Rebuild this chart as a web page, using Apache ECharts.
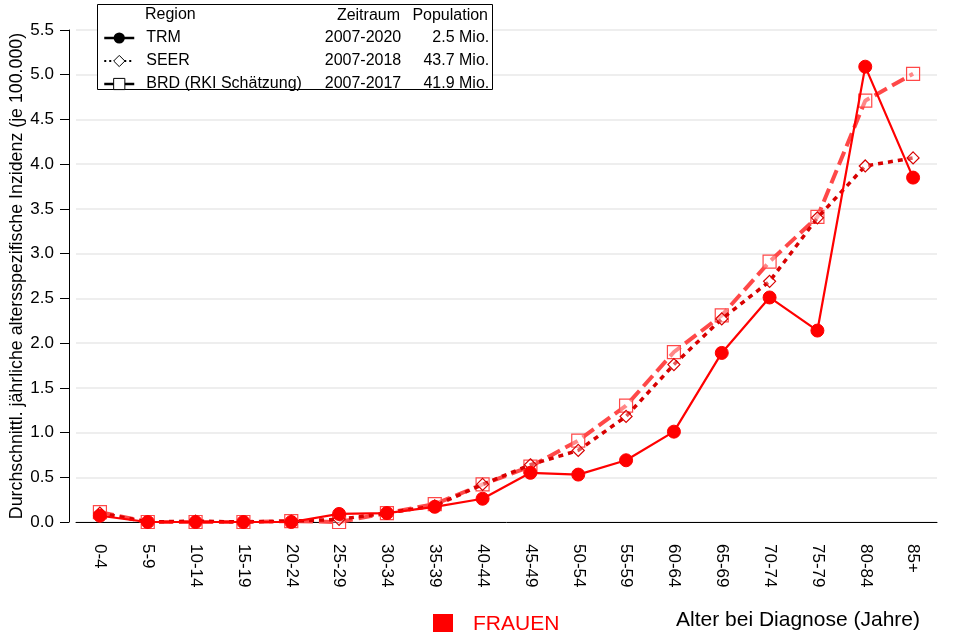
<!DOCTYPE html>
<html>
<head>
<meta charset="utf-8">
<script src="https://cdn.jsdelivr.net/npm/echarts@6/dist/echarts.min.js"></script>
<style>
html,body{margin:0;padding:0;background:#fff;}
#chart{width:960px;height:636px;}
</style>
</head>
<body>
<div id="chart"></div>
<script>
const categories = ['0-4','5-9','10-14','15-19','20-24','25-29','30-34','35-39','40-44','45-49','50-54','55-59','60-64','65-69','70-74','75-79','80-84','85+'];
const trm  = [0.07, 0.00, 0.00, 0.00, 0.00, 0.09, 0.10, 0.17, 0.26, 0.55, 0.53, 0.69, 1.01, 1.89, 2.51, 2.14, 5.09, 3.85];
const seer = [0.10, 0.00, 0.01, 0.00, 0.01, 0.03, 0.10, 0.18, 0.42, 0.64, 0.80, 1.18, 1.76, 2.27, 2.69, 3.40, 3.98, 4.07];
const brd  = [0.11, 0.00, 0.00, 0.00, 0.01, 0.00, 0.10, 0.20, 0.42, 0.62, 0.91, 1.30, 1.90, 2.31, 2.91, 3.41, 4.71, 5.01];
const legendRows = [
  {name:'TRM', period:'2007-2020', pop:'2.5 Mio.'},
  {name:'SEER', period:'2007-2018', pop:'43.7 Mio.'},
  {name:'BRD (RKI Schätzung)', period:'2007-2017', pop:'41.9 Mio.'}
];
const headerTexts = ['Region','Zeitraum','Population'];
const yTitle = 'Durchschnittl. jährliche altersspezifische Inzidenz (je 100.000)';
const xTitle = 'Alter bei Diagnose (Jahre)';
const groupLabel = 'FRAUEN';

const FONT = 'Liberation Sans, Arial, sans-serif';
const cTRM = '#ff0000', cSEER = '#d80000', cBRD = '#ff4848';

const chart = echarts.init(document.getElementById('chart'));
const rowMap = {};
legendRows.forEach(r => rowMap[r.name] = r);

chart.setOption({
  animation: false,
  backgroundColor: '#fff',
  textStyle: {fontFamily: FONT},
  grid: {left: 76, right: 23, top: 30, bottom: 114, outerBoundsMode: 'none', containLabel: false},
  xAxis: {
    type: 'category',
    data: categories,
    boundaryGap: true,
    offset: 6,
    axisLine: {lineStyle: {color: '#000', width: 1}},
    axisTick: {alignWithLabel: true, length: 9, lineStyle: {color: '#000'}},
    axisLabel: {rotate: -90, margin: 16, fontSize: 17, color: '#000', fontFamily: FONT},
    splitLine: {show: false}
  },
  yAxis: {
    type: 'value',
    min: 0, max: 5.5, interval: 0.5,
    offset: 7,
    axisLine: {show: true, lineStyle: {color: '#000', width: 1}},
    axisTick: {show: true, length: 9, lineStyle: {color: '#000'}},
    axisLabel: {margin: 15, fontSize: 17, color: '#000', fontFamily: FONT, formatter: v => v.toFixed(1)},
    splitLine: {show: true, lineStyle: {color: '#e8e8e8', width: 1.5}},
    name: yTitle,
    nameLocation: 'middle',
    nameGap: 43,
    nameMoveOverlap: false,
    nameTextStyle: {fontSize: 17.8, color: '#000', fontFamily: FONT}
  },
  legend: {
    orient: 'vertical',
    left: 103, top: 30,
    padding: 0,
    itemWidth: 30, itemHeight: 14, itemGap: 7,
    selectedMode: false,
    data: [
      {name: 'TRM', itemStyle: {color: '#000', borderColor: '#000'}, lineStyle: {color: '#000', width: 2.5, type: 'solid'}},
      {name: 'SEER', itemStyle: {color: '#fff', borderColor: '#000', borderWidth: 1}, lineStyle: {color: '#000', width: 2, type: [2, 3]}},
      {name: 'BRD (RKI Schätzung)', itemStyle: {color: '#fff', borderColor: '#000', borderWidth: 1}, lineStyle: {color: '#000', width: 2.5, type: 'solid'}}
    ],
    formatter: name => {
      const r = rowMap[name];
      return '{a|' + r.name + '}{b|' + r.period + '}{c|' + r.pop + '}';
    },
    textStyle: {
      fontSize: 16, color: '#000', fontFamily: FONT,
      rich: {
        a: {width: 160, padding: [0, 0, 0, 7], fontSize: 16, fontFamily: FONT, color: '#000'},
        b: {width: 95, align: 'right', fontSize: 16, fontFamily: FONT, color: '#000'},
        c: {width: 88, align: 'right', fontSize: 16, fontFamily: FONT, color: '#000'}
      }
    },
    z: 10
  },
  graphic: [
    {type: 'rect', z: 5, shape: {x: 97.5, y: 4.5, width: 395, height: 85}, style: {fill: '#fff', stroke: '#000', lineWidth: 1}},
    {type: 'text', z: 11, left: 145, top: 7, style: {text: headerTexts[0], font: '16px ' + FONT, fill: '#000'}},
    {type: 'text', z: 11, x: 400, y: 16, style: {text: headerTexts[1], font: '16px ' + FONT, fill: '#000', align: 'right', verticalAlign: 'middle'}},
    {type: 'text', z: 11, x: 488, y: 16, style: {text: headerTexts[2], font: '16px ' + FONT, fill: '#000', align: 'right', verticalAlign: 'middle'}},
    {type: 'rect', z: 11, shape: {x: 433, y: 614, width: 20, height: 18}, style: {fill: '#ff0000'}},
    {type: 'text', z: 11, x: 473, y: 624, style: {text: groupLabel, font: '21px ' + FONT, fill: '#ff0000', verticalAlign: 'middle'}},
    {type: 'text', z: 11, x: 920, y: 620, style: {text: xTitle, font: '21px ' + FONT, fill: '#000', align: 'right', verticalAlign: 'middle'}}
  ],
  series: [
    {
      name: 'BRD (RKI Schätzung)', type: 'line', data: brd, z: 3,
      symbol: 'rect', symbolSize: 13,
      itemStyle: {color: 'rgba(255,255,255,0.35)', borderColor: cBRD, borderWidth: 1.2},
      lineStyle: {color: cBRD, width: 4, type: [14, 6]}
    },
    {
      name: 'SEER', type: 'line', data: seer, z: 4,
      symbol: 'diamond', symbolSize: 12,
      itemStyle: {color: 'rgba(255,255,255,0.35)', borderColor: cSEER, borderWidth: 1.2},
      lineStyle: {color: cSEER, width: 3.5, type: [5, 5]}
    },
    {
      name: 'TRM', type: 'line', data: trm, z: 5,
      symbol: 'circle', symbolSize: 13,
      itemStyle: {color: cTRM, borderColor: cTRM},
      lineStyle: {color: cTRM, width: 2.2}
    }
  ]
});
</script>
</body>
</html>
